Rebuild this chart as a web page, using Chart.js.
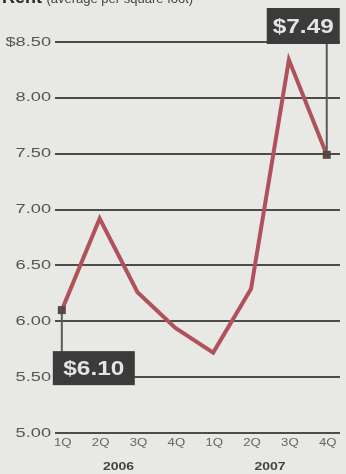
<!DOCTYPE html>
<html>
<head>
<meta charset="utf-8">
<script src="https://cdn.jsdelivr.net/npm/chart.js@4"></script>
<style>
  html, body { margin: 0; padding: 0; background: #e8e8e5; overflow: hidden; }
  #caja { position: relative; width: 346px; height: 474px; }
  #titulo { position: absolute; left: 2px; top: -13px; font-family: "Liberation Sans", Arial, sans-serif;
            color: #2a2a2a; white-space: nowrap; }
  #titulo b { font-size: 18px; }
  #titulo span { font-size: 13px; color: #444; }
  canvas { position: absolute; left: 0; top: 0; }
</style>
</head>
<body>
<div id="caja">
  <canvas id="grafico" width="346" height="474"></canvas>
  <div id="titulo"><b>Rent</b> <span>(average per square foot)</span></div>
</div>
<script>
// datos
let trimestres = ['1Q', '2Q', '3Q', '4Q', '1Q', '2Q', '3Q', '4Q'];
let anios = ['2006', '2007'];
let alquiler = [6.10, 6.92, 6.26, 5.94, 5.72, 6.29, 8.34, 7.49];
let marcasY = [5.00, 5.50, 6.00, 6.50, 7.00, 7.50, 8.00, 8.50];

const fuente = '"Liberation Sans", Arial, sans-serif';

function textoAncho(ctx, txt, x, y, escala) {
    ctx.save();
    ctx.translate(x, y);
    ctx.scale(escala, 1);
    ctx.fillText(txt, 0, 0);
    ctx.restore();
}

function recuadro(ctx, txt, bx, by, w, h) {
    ctx.fillStyle = '#3b3b3b';
    ctx.fillRect(bx, by, w, h);
    ctx.fillStyle = '#e4e4e4';
    ctx.font = 'bold 20px ' + fuente;
    ctx.textAlign = 'center';
    ctx.textBaseline = 'middle';
    textoAncho(ctx, txt, bx + w / 2, by + h / 2 + 1, 1.22);
}

const etiquetas = {
    id: 'etiquetas',
    afterDatasetsDraw(chart) {
        const ctx = chart.ctx;
        const xs = chart.scales.x;
        const ys = chart.scales.y;
        ctx.save();

        // eje y
        ctx.fillStyle = '#555';
        ctx.font = '13px ' + fuente;
        ctx.textAlign = 'right';
        ctx.textBaseline = 'middle';
        marcasY.forEach(v => {
            let t = v.toFixed(2);
            if (v === 8.5) t = '$' + t;
            textoAncho(ctx, t, 51, ys.getPixelForValue(v), 1.4);
        });

        // trimestres
        ctx.fillStyle = '#666';
        ctx.font = '11px ' + fuente;
        ctx.textAlign = 'center';
        trimestres.forEach((q, i) => {
            textoAncho(ctx, q, xs.getPixelForValue(i) + 1, ys.getPixelForValue(5) + 10, 1.2);
        });

        // anios
        ctx.fillStyle = '#444';
        ctx.font = 'bold 10px ' + fuente;
        anios.forEach((a, i) => {
            textoAncho(ctx, a, xs.getPixelForValue(i * 4 + 1.5), ys.getPixelForValue(5) + 34, 1.4);
        });

        // llamadas
        const n = alquiler.length - 1;
        const p0x = xs.getPixelForValue(0), p0y = ys.getPixelForValue(alquiler[0]);
        const pnx = xs.getPixelForValue(n), pny = ys.getPixelForValue(alquiler[n]);
        ctx.strokeStyle = '#5a5a5a';
        ctx.lineWidth = 2;
        ctx.beginPath();
        ctx.moveTo(p0x, p0y);
        ctx.lineTo(p0x, ys.getPixelForValue(5.5));
        ctx.moveTo(pnx, pny);
        ctx.lineTo(pnx, ys.getPixelForValue(8.5));
        ctx.stroke();

        recuadro(ctx, '$' + alquiler[0].toFixed(2), p0x - 9, ys.getPixelForValue(5.5) - 26, 82, 34);
        recuadro(ctx, '$' + alquiler[n].toFixed(2), pnx - 60, ys.getPixelForValue(8.5) - 34, 73, 36);

        // cuadritos en los extremos
        ctx.fillStyle = '#574848';
        ctx.fillRect(p0x - 4, p0y - 4, 8, 8);
        ctx.fillRect(pnx - 4, pny - 4, 8, 8);
        ctx.restore();
    }
};

new Chart(document.getElementById('grafico'), {
    type: 'line',
    data: {
        datasets: [{
            data: alquiler.map((v, i) => ({ x: i, y: v })),
            borderColor: '#b0525c',
            borderWidth: 4,
            pointRadius: 0,
            tension: 0,
            borderJoinStyle: 'miter',
        }],
    },
    options: {
        responsive: false,
        animation: false,
        layout: { padding: { left: 55, right: 6, top: 42, bottom: 41 } },
        plugins: { legend: { display: false }, tooltip: { enabled: false } },
        scales: {
            x: {
                type: 'linear',
                min: -0.18,
                max: 7.35,
                display: false,
            },
            y: {
                min: 5,
                max: 8.5,
                afterBuildTicks: (ax) => { ax.ticks = marcasY.map(v => ({ value: v })); },
                ticks: { display: false },
                border: { display: false },
                grid: { color: '#4c4c4c', lineWidth: 2, drawTicks: false },
            },
        },
    },
    plugins: [etiquetas],
});
</script>
</body>
</html>
